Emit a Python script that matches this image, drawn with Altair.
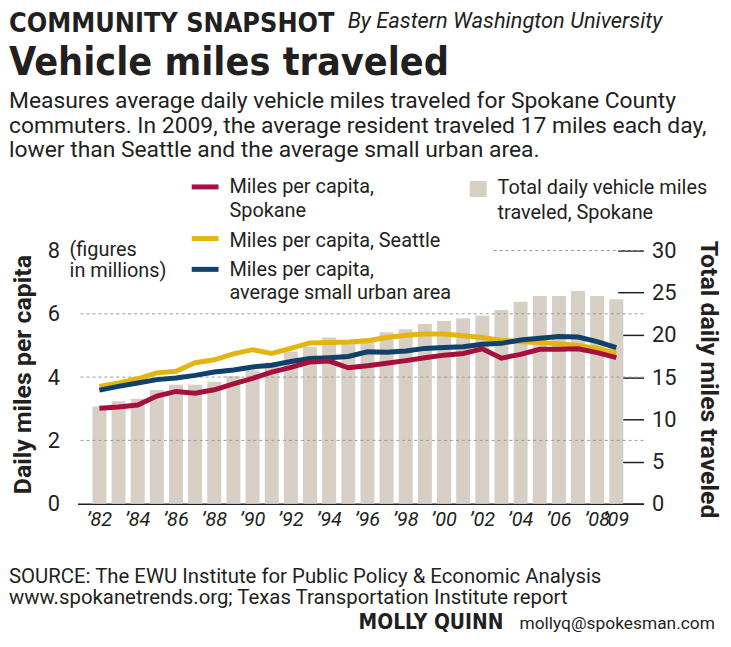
import altair as alt
import pandas as pd

YEARS = [str(y) for y in range(1982, 2010)]

# total daily vehicle miles traveled, Spokane (millions) -> left scale 0-8
TOTAL_MILLIONS = [3.07, 3.24, 3.32, 3.59, 3.76, 3.76, 3.85, 4.03, 4.22, 4.46,
                  4.81, 4.95, 5.25, 5.15, 5.23, 5.42, 5.51, 5.68, 5.77, 5.86,
                  5.94, 6.12, 6.38, 6.56, 6.56, 6.72, 6.56, 6.46]

# daily miles per capita -> right scale 0-30
SPOKANE = [11.3, 11.45, 11.7, 12.75, 13.3, 13.1, 13.5, 14.2, 14.85, 15.6,
           16.15, 16.8, 16.9, 16.1, 16.35, 16.65, 16.95, 17.3, 17.6, 17.8,
           18.35, 17.25, 17.7, 18.3, 18.3, 18.35, 17.9, 17.3]
SEATTLE = [13.9, 14.3, 14.8, 15.5, 15.7, 16.7, 17.05, 17.75, 18.25, 17.8,
           18.4, 19.05, 19.1, 19.15, 19.3, 19.7, 19.95, 20.1, 20.1, 19.9,
           19.7, 19.35, 19.2, 19.1, 18.95, 18.75, 18.4, 17.85]
SMALL_URBAN = [13.45, 13.9, 14.3, 14.7, 14.9, 15.2, 15.6, 15.85, 16.2, 16.4,
               16.85, 17.2, 17.3, 17.45, 18.0, 17.95, 18.1, 18.4, 18.5, 18.6,
               18.9, 19.0, 19.4, 19.6, 19.8, 19.75, 19.2, 18.5]

SERIES = ["Seattle", "Small urban", "Spokane"]
SERIES_COLORS = ["#e4b40f", "#0f416a", "#a6103f"]
BAR_COLOR = "#d7cec4"

TICK_YEARS = ["1982", "1984", "1986", "1988", "1990", "1992", "1994", "1996",
              "1998", "2000", "2002", "2004", "2006", "2008", "2009"]
LEFT_TICKS = [0, 2, 4, 6, 8]
RIGHT_TICKS = [0, 5, 10, 15, 20, 25, 30]
GRID_LEVELS = [2, 4, 6]

FONT = "Roboto"
HEAVY = "DejaVu Sans Condensed, Roboto"
INK = "#231f20"

W, H = 570, 255
LEFT_EDGE = -69  # page x = 9

bars_df = pd.DataFrame({"year": YEARS, "total": TOTAL_MILLIONS})
lines_df = pd.DataFrame({
    "year": YEARS * 3,
    "series": [s for s in SERIES for _ in YEARS],
    "miles": SEATTLE + SMALL_URBAN + SPOKANE,
})
one = pd.DataFrame({"k": [0]})

x_enc = alt.X(
    "year:O",
    title=None,
    scale=alt.Scale(paddingInner=0.27, paddingOuter=0.917, align=0.424),
    axis=alt.Axis(
        values=TICK_YEARS,
        labelExpr="'\u2019' + slice(datum.label, 2)",
        labelAngle=0, ticks=False, domain=True, domainColor=INK,
        domainWidth=1.5, labelFont=FONT, labelFontSize=20,
        labelFontStyle="italic", labelColor=INK, labelPadding=6,
        labelOverlap=False,
    ),
)

left_axis = alt.Axis(orient="left", values=LEFT_TICKS, grid=False,
                     ticks=False, domain=False, labelPadding=18,
                     labelFont=FONT, labelFontSize=22, labelColor=INK)
left_scale = alt.Scale(domain=[0, 8], nice=False)

bars = alt.Chart(bars_df).mark_bar(color=BAR_COLOR).encode(
    x=x_enc,
    y=alt.Y("total:Q", title=None, scale=left_scale, axis=left_axis),
)

grid = alt.Chart(pd.DataFrame({"level": GRID_LEVELS})).mark_rule(
    color="#9a9a9a", strokeDash=[3, 3], strokeWidth=1
).encode(y=alt.Y("level:Q", title=None, scale=left_scale, axis=left_axis))

grid_top = alt.Chart(pd.DataFrame({"level": [8]})).mark_rule(
    color="#9a9a9a", strokeDash=[3, 3], strokeWidth=1
).encode(
    y=alt.Y("level:Q", title=None, scale=left_scale, axis=left_axis),
    x=alt.value(419), x2=alt.value(W),
)

lines = alt.Chart(lines_df).mark_line(strokeWidth=5).encode(
    x=x_enc,
    y=alt.Y(
        "miles:Q", title=None,
        scale=alt.Scale(domain=[0, 30], nice=False),
        axis=alt.Axis(orient="right", values=RIGHT_TICKS, grid=False,
                      domain=False, ticks=True, tickSize=26, tickWidth=1.5,
                      tickColor=INK, offset=-26, labelPadding=8,
                      labelFont=FONT, labelFontSize=22, labelColor=INK),
    ),
    color=alt.Color("series:N", legend=None,
                    scale=alt.Scale(domain=SERIES, range=SERIES_COLORS)),
    detail="series:N",
)


def note(text, x, y, size=20, weight="normal", style="normal",
         align="left", angle=0, baseline="alphabetic", font=FONT):
    return alt.Chart(one).mark_text(
        text=text, font=font, fontSize=size, fontWeight=weight,
        fontStyle=style, align=align, angle=angle, baseline=baseline,
        color=INK,
    ).encode(x=alt.value(x), y=alt.value(y))


def swatch(color, y):
    return alt.Chart(one).mark_rule(color=color, strokeWidth=5).encode(
        x=alt.value(115), x2=alt.value(142), y=alt.value(y))


texts = [
    # header (relative to plot origin at page 78,250)
    note("COMMUNITY SNAPSHOT", LEFT_EDGE, -220, size=27, weight="bold",
         font=HEAVY),
    note("By Eastern Washington University", 272, -224, size=22, style="italic"),
    note("Vehicle miles traveled", LEFT_EDGE, -177, size=39.5, weight="bold",
         font=HEAVY),
    note("Measures average daily vehicle miles traveled for Spokane County",
         LEFT_EDGE, -143, size=23),
    note("commuters. In 2009, the average resident traveled 17 miles each day,",
         LEFT_EDGE, -118, size=23),
    note("lower than Seattle and the average small urban area.",
         LEFT_EDGE, -94, size=23),
    # legend
    swatch(SERIES_COLORS[2], -64),
    swatch(SERIES_COLORS[0], -12),
    swatch(SERIES_COLORS[1], 19),
    note("Miles per capita,", 153, -64, baseline="middle"),
    note("Spokane", 153, -40, baseline="middle"),
    note("Miles per capita, Seattle", 153, -10, baseline="middle"),
    note("Miles per capita,", 153, 20, baseline="middle"),
    note("average small urban area", 153, 43, baseline="middle"),
    alt.Chart(one).mark_rect(color=BAR_COLOR).encode(
        x=alt.value(395), x2=alt.value(412), y=alt.value(-70), y2=alt.value(-54)),
    note("Total daily vehicle miles", 423, -63, baseline="middle"),
    note("traveled, Spokane", 423, -38, baseline="middle"),
    note("(figures", -8, 0, baseline="middle"),
    note("in millions)", -8, 21, baseline="middle"),
    # axis titles
    note("Daily miles per capita", -55, 125, size=25, weight="bold",
         align="center", angle=270, baseline="middle"),
    note("Total daily miles traveled", 636, 130, size=25, weight="bold",
         align="center", angle=90, baseline="middle"),
    # footer
    note("SOURCE: The EWU Institute for Public Policy & Economic Analysis",
         LEFT_EDGE, 335, size=20.5),
    note("www.spokanetrends.org; Texas Transportation Institute report",
         LEFT_EDGE, 356, size=20.5),
    note("MOLLY QUINN", 283, 381, size=21, weight="bold", font=HEAVY),
    note("mollyq@spokesman.com", 445, 381, size=17.5),
]

chart = alt.layer(
    alt.layer(bars, grid, grid_top),
    lines,
    *texts,
).resolve_scale(y="independent").properties(
    width=W, height=H,
    autosize=alt.AutoSizeParams(type="none"),
    padding={"left": 70, "top": 242, "right": 80, "bottom": 128},
).configure_view(stroke=None)

chart.save("out.html", embed_options={"renderer": "svg", "actions": False})
